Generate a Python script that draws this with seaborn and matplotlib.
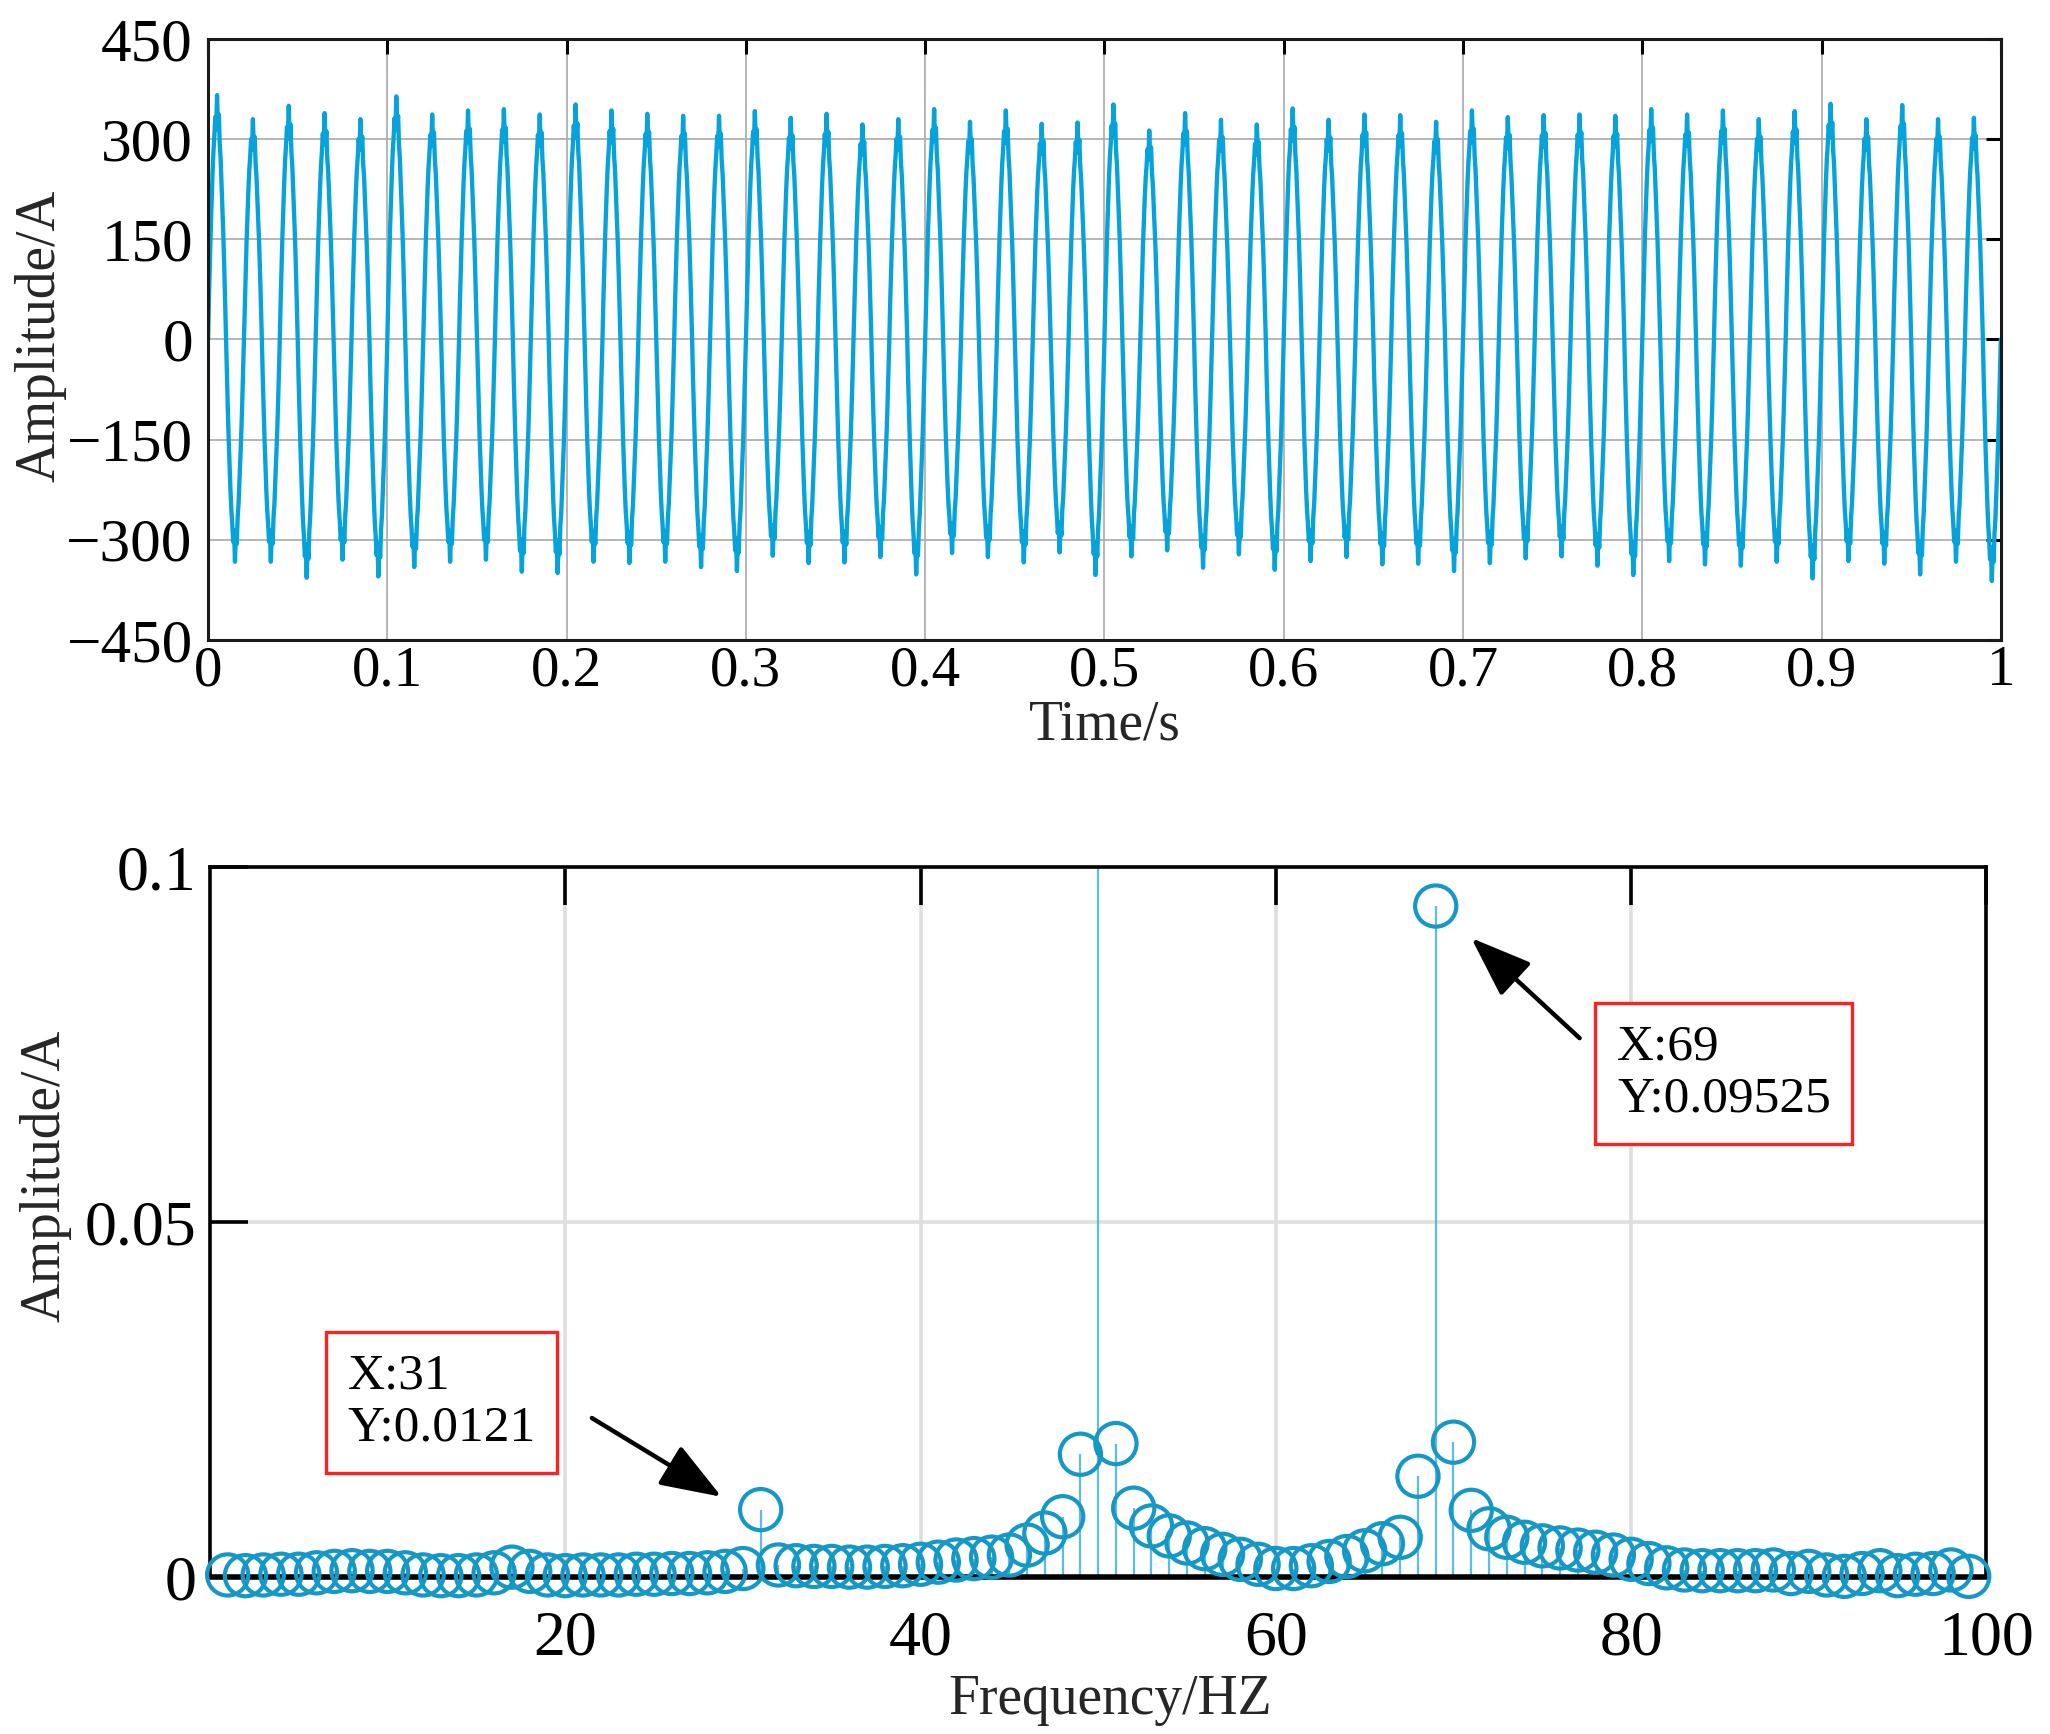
import numpy as np
import pandas as pd
import matplotlib
matplotlib.use('Agg')
import matplotlib.pyplot as plt
import seaborn as sns

# ----------------------------
# Data
# ----------------------------
# top panel: positive peak / negative trough of every 50 Hz cycle (A)
cycle_peaks = [366, 330, 350, 339, 330, 364, 337, 343, 345, 337,
               352, 343, 338, 335, 335, 342, 332, 338, 322, 330,
               345, 326, 343, 323, 325, 352, 313, 339, 329, 322,
               346, 329, 337, 336, 326, 343, 333, 336, 337, 335,
               345, 337, 343, 330, 342, 353, 330, 351, 330, 332]
cycle_troughs = [-333, -333, -357, -330, -355, -341, -333, -330, -348, -350,
                 -333, -335, -333, -341, -347, -324, -335, -334, -326, -352,
                 -320, -326, -334, -319, -353, -325, -316, -342, -322, -345,
                 -332, -326, -337, -336, -347, -335, -328, -325, -339, -353,
                 -332, -337, -339, -333, -358, -332, -336, -352, -333, -362]
# shape of one half cycle (0.5 ms steps), fraction of that half cycle's extreme
half_cycle_shape = [0.0, 0.17, 0.31, 0.45, 0.57, 0.68, 0.77, 0.83, 0.91, 0.86, 1.0,
                    0.87, 0.92, 0.80, 0.74, 0.64, 0.55, 0.43, 0.30, 0.15, 0.0]
sample_step = 0.0005

# bottom panel: amplitude spectrum
freq_hz = list(range(1, 100))
spectrum_amp = [0.0003, 0.0002, 0.0003, 0.0004, 0.0004, 0.0006, 0.0008, 0.0009, 0.0008, 0.0008,
                0.0006, 0.0003, 0.0002, 0.0002, 0.0003, 0.0006, 0.0014, 0.0008, 0.0003, 0.0002,
                0.0003, 0.0003, 0.0003, 0.0004, 0.0004, 0.0005, 0.0005, 0.0006, 0.0008, 0.0012,
                0.0095, 0.0017, 0.0016, 0.0015, 0.0015, 0.0014, 0.0014, 0.0015, 0.0016, 0.0018,
                0.0021, 0.0024, 0.0026, 0.0028, 0.0031, 0.0045, 0.0062, 0.0085, 0.0173, 0.35,
                0.0188, 0.0097, 0.0072, 0.0058, 0.0048, 0.0040, 0.0032, 0.0025, 0.0018, 0.0012,
                0.0012, 0.0016, 0.0022, 0.0029, 0.0037, 0.0047, 0.0056, 0.0142, 0.0945, 0.0190,
                0.0094, 0.0068, 0.0056, 0.0049, 0.0044, 0.0041, 0.0038, 0.0035, 0.0031, 0.0025,
                0.0019, 0.0013, 0.0010, 0.0009, 0.0009, 0.0009, 0.0009, 0.0010, 0.0005, 0.0008,
                0.0003, 0.0001, 0.0005, 0.0009, 0.0002, 0.0004, 0.0005, 0.0010, 0.0001]
tip_freqs = [31, 69]
tip_texts = ['X:31\nY:0.0121', 'X:69\nY:0.09525']

# ----------------------------
# Build tables
# ----------------------------
wave = []
for pk, tr in zip(cycle_peaks, cycle_troughs):
    wave += [pk * s for s in half_cycle_shape[:-1]]
    wave += [tr * s for s in half_cycle_shape[:-1]]
wave.append(0.0)
df_wave = pd.DataFrame({'Time': np.arange(len(wave)) * sample_step, 'Amp': wave})

df_spec = pd.DataFrame({'Freq': freq_hz, 'Amp': spectrum_amp})
spec_ymax = 0.1
df_vis = df_spec[df_spec['Amp'] <= spec_ymax]

# ----------------------------
# Style
# ----------------------------
sns.set_theme(style='white')
plt.rcParams['font.family'] = ['Liberation Serif', 'DejaVu Serif']

wave_color = '#05a3d9'
marker_color = '#1698c6'
stem_color = '#5dbce2'

fig = plt.figure(figsize=(20.5, 17.34), dpi=100)
ax1 = fig.add_axes([0.1015, 0.631, 0.8745, 0.3465])
ax2 = fig.add_axes([0.1024, 0.0905, 0.8666, 0.4095])

# ----------------------------
# Top: time signal
# ----------------------------
sns.lineplot(data=df_wave, x='Time', y='Amp', ax=ax1, color=wave_color,
             linewidth=3.1, estimator=None, sort=False)
ax1.set_xlim(0, 1)
ax1.set_ylim(-450, 450)
xt = np.round(np.arange(0, 1.01, 0.1), 1)
ax1.set_xticks(xt)
ax1.set_xticklabels(['0'] + ['%.1f' % v for v in xt[1:-1]] + ['1'])
yt = np.arange(-450, 451, 150)
ax1.set_yticks(yt)
ax1.set_yticklabels([str(v).replace('-', '\u2212') for v in yt])
ax1.grid(True, color='#b0b0b0', linewidth=1.3)
ax1.tick_params(direction='in', top=True, right=True, length=11, width=2.2, colors='black')
ax1.tick_params(axis='x', labelsize=41, pad=4)
ax1.tick_params(axis='y', labelsize=44, pad=11)
for s in ax1.spines.values():
    s.set_linewidth(2.2)
    s.set_color('#1a1a1a')
ax1.set_xlabel('Time/s', fontsize=40)
ax1.set_ylabel('Amplitude/A', fontsize=40)
ax1.xaxis.set_label_coords(0.5, -0.1)
ax1.yaxis.set_label_coords(-0.079, 0.506)

# ----------------------------
# Bottom: spectrum (stem)
# ----------------------------
ax2.vlines(df_spec['Freq'], 0, df_spec['Amp'], colors=stem_color, linewidth=1.6, zorder=2)
sns.scatterplot(data=df_vis, x='Freq', y='Amp', ax=ax2, marker='o', s=880,
                facecolors='none', edgecolor=marker_color, linewidth=3.0,
                clip_on=False, zorder=4, legend=False)
ax2.set_xlim(0, 100)
ax2.set_ylim(0, spec_ymax)
ax2.set_xticks([20, 40, 60, 80, 100])
ax2.set_yticks([0, 0.05, 0.1])
ax2.set_yticklabels(['0', '0.05', '0.1'])
ax2.grid(True, color='#dedede', linewidth=2.6)
ax2.tick_params(axis='x', direction='in', top=True, bottom=False, length=27, width=2.6,
                labelsize=46, pad=24, colors='black')
ax2.tick_params(axis='y', direction='in', left=True, right=False, length=27, width=2.6,
                labelsize=46, pad=10, colors='black')
for s in ax2.spines.values():
    s.set_linewidth(2.6)
    s.set_color('black')
ax2.spines['bottom'].set_linewidth(4)
ax2.set_xlabel('Frequency/HZ', fontsize=40)
ax2.set_ylabel('Amplitude/A', fontsize=40)
ax2.xaxis.set_label_coords(0.507, -0.136)
ax2.yaxis.set_label_coords(-0.078, 0.565)

# data tips
amp_of = dict(zip(freq_hz, spectrum_amp))
tip_layout = {31: dict(head=(-2.2, 0.0018), tail=(-9.5, 0.0129), box=(7.75, 0.0246)),
              69: dict(head=(2.0, -0.0045), tail=(8.1, -0.0186), box=(79.2, 0.0709))}
for f, txt in zip(tip_freqs, tip_texts):
    lay = tip_layout[f]
    a = amp_of[f]
    ax2.annotate('', xy=(f + lay['head'][0], a + lay['head'][1]),
                 xytext=(f + lay['tail'][0], a + lay['tail'][1]),
                 arrowprops=dict(arrowstyle='-|>,head_length=1.9,head_width=0.7',
                                 color='black', lw=3.2, mutation_scale=20,
                                 shrinkA=0, shrinkB=0), zorder=6)
    ax2.text(lay['box'][0], lay['box'][1], txt, fontsize=37, ha='left', va='center',
             linespacing=1.15, zorder=7, color='black',
             bbox=dict(boxstyle='square,pad=0.42', fc='white', ec='#ff2020', lw=2.4))

fig.savefig('out.png', dpi=100)
